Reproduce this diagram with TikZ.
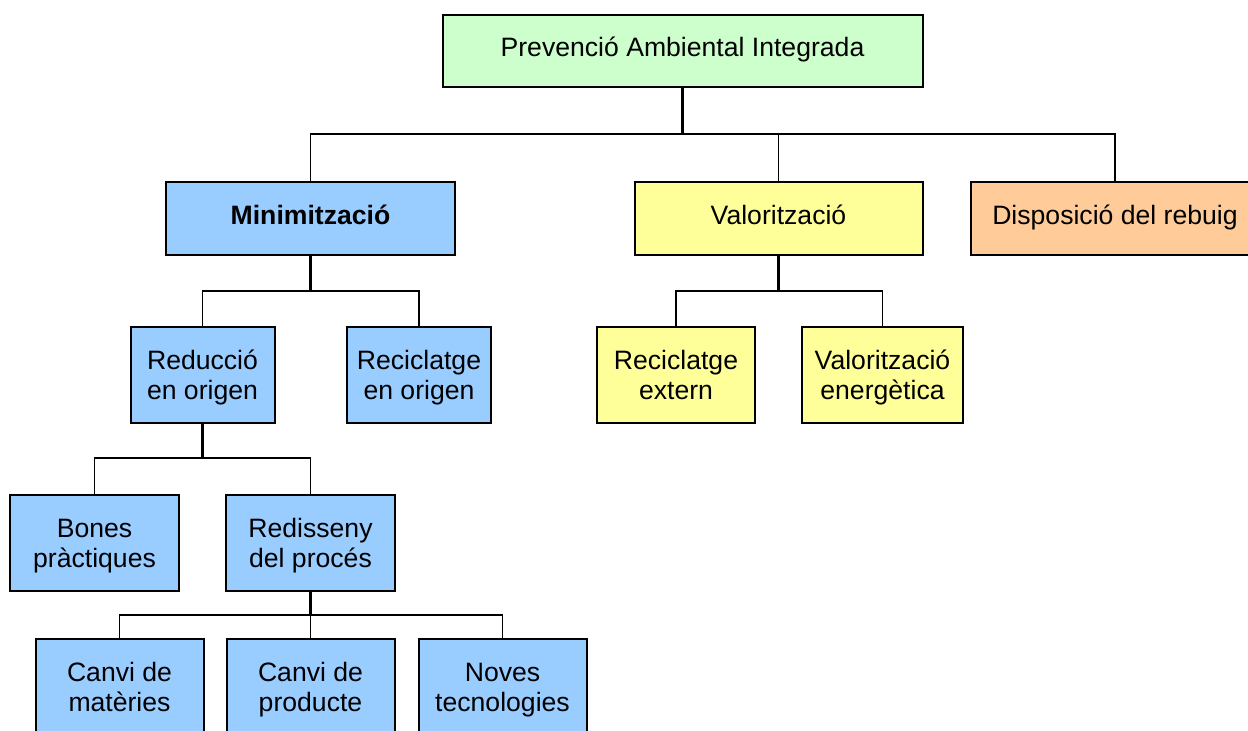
\documentclass[tikz,border=0pt]{standalone}
\usepackage{fontspec}
\setmainfont{Liberation Sans}
\definecolor{cgreen}{HTML}{CCFFCC}
\definecolor{cblue}{HTML}{99CCFF}
\definecolor{cyellow}{HTML}{FFFF99}
\definecolor{corange}{HTML}{FFCC99}
\newcommand\onestr{\rule[-9.5pt]{0pt}{30pt}}
\newcommand\twostr{\rule[-6pt]{0pt}{30pt}}
\begin{document}
\begin{tikzpicture}[x=1pt,y=-1pt,
  box/.style={draw=black,line width=2pt,rectangle,align=center,inner sep=0pt,
    font=\fontsize{26.6}{30}\selectfont},
  stem/.style={line width=2.7pt},
  branch/.style={line width=1.6pt}]
\clip (0,0) rectangle (1248,731);
\fill[white] (0,0) rectangle (1248,731);
% level 0
\node[box,fill=cgreen,minimum width=480pt,minimum height=72pt] (top) at (682.5,50.5) {\onestr Prevenció Ambiental Integrada};
% level 1
\node[box,fill=cblue,minimum width=289pt,minimum height=73pt] (minim) at (310.5,218.5) {\onestr\textbf{Minimització}};
\node[box,fill=cyellow,minimum width=288pt,minimum height=73pt] (valor) at (778.5,218.5) {\onestr Valorització};
\node[box,fill=corange,minimum width=288pt,minimum height=73pt] (disp) at (1115,218.5) {\onestr Disposició del rebuig};
% level 2
\node[box,fill=cblue,minimum width=144pt,minimum height=96pt] (reduc) at (202.5,375) {\twostr Reducció\\\twostr en origen};
\node[box,fill=cblue,minimum width=144pt,minimum height=96pt] (recor) at (419,375) {\twostr Reciclatge\\\twostr en origen};
\node[box,fill=cyellow,minimum width=158pt,minimum height=96pt] (recext) at (676,375) {\twostr Reciclatge\\\twostr extern};
\node[box,fill=cyellow,minimum width=161pt,minimum height=96pt] (valen) at (882.5,375) {\twostr Valorització\\\twostr energètica};
% level 3
\node[box,fill=cblue,minimum width=169pt,minimum height=96pt] (bones) at (94.5,543) {\twostr Bones\\\twostr pràctiques};
\node[box,fill=cblue,minimum width=169pt,minimum height=96pt] (redis) at (310.5,543) {\twostr Redisseny\\\twostr del procés};
% level 4
\node[box,fill=cblue,minimum width=168pt,minimum height=96pt] (canvm) at (119.5,687) {\twostr Canvi de\\\twostr matèries};
\node[box,fill=cblue,minimum width=168pt,minimum height=96pt] (canvp) at (310.5,687) {\twostr Canvi de\\\twostr producte};
\node[box,fill=cblue,minimum width=168pt,minimum height=96pt] (noves) at (502.5,687) {\twostr Noves\\\twostr tecnologies};
% bus coordinates
\coordinate (b0) at (0,134);
\coordinate (b1) at (0,291);
\coordinate (b2) at (0,458);
\coordinate (b3) at (0,615);
% connectors level 0 -> 1
\draw[branch] (minim.north) -- (minim.north |- b0) -- (disp.north |- b0) -- (disp.north);
\draw[branch] (valor.north) -- (valor.north |- b0);
\draw[stem] (top.south) -- (top.south |- b0);
% minim -> level 2
\draw[branch] (reduc.north) -- (reduc.north |- b1) -- (recor.north |- b1) -- (recor.north);
\draw[stem] (minim.south) -- (minim.south |- b1);
% valor -> level 2
\draw[branch] (recext.north) -- (recext.north |- b1) -- (valen.north |- b1) -- (valen.north);
\draw[stem] (valor.south) -- (valor.south |- b1);
% reduc -> level 3
\draw[branch] (bones.north) -- (bones.north |- b2) -- (redis.north |- b2) -- (redis.north);
\draw[stem] (reduc.south) -- (reduc.south |- b2);
% redis -> level 4
\draw[branch] (canvm.north) -- (canvm.north |- b3) -- (noves.north |- b3) -- (noves.north);
\draw[branch] (canvp.north) -- (canvp.north |- b3);
\draw[stem] (redis.south) -- (redis.south |- b3);
\end{tikzpicture}
\end{document}
